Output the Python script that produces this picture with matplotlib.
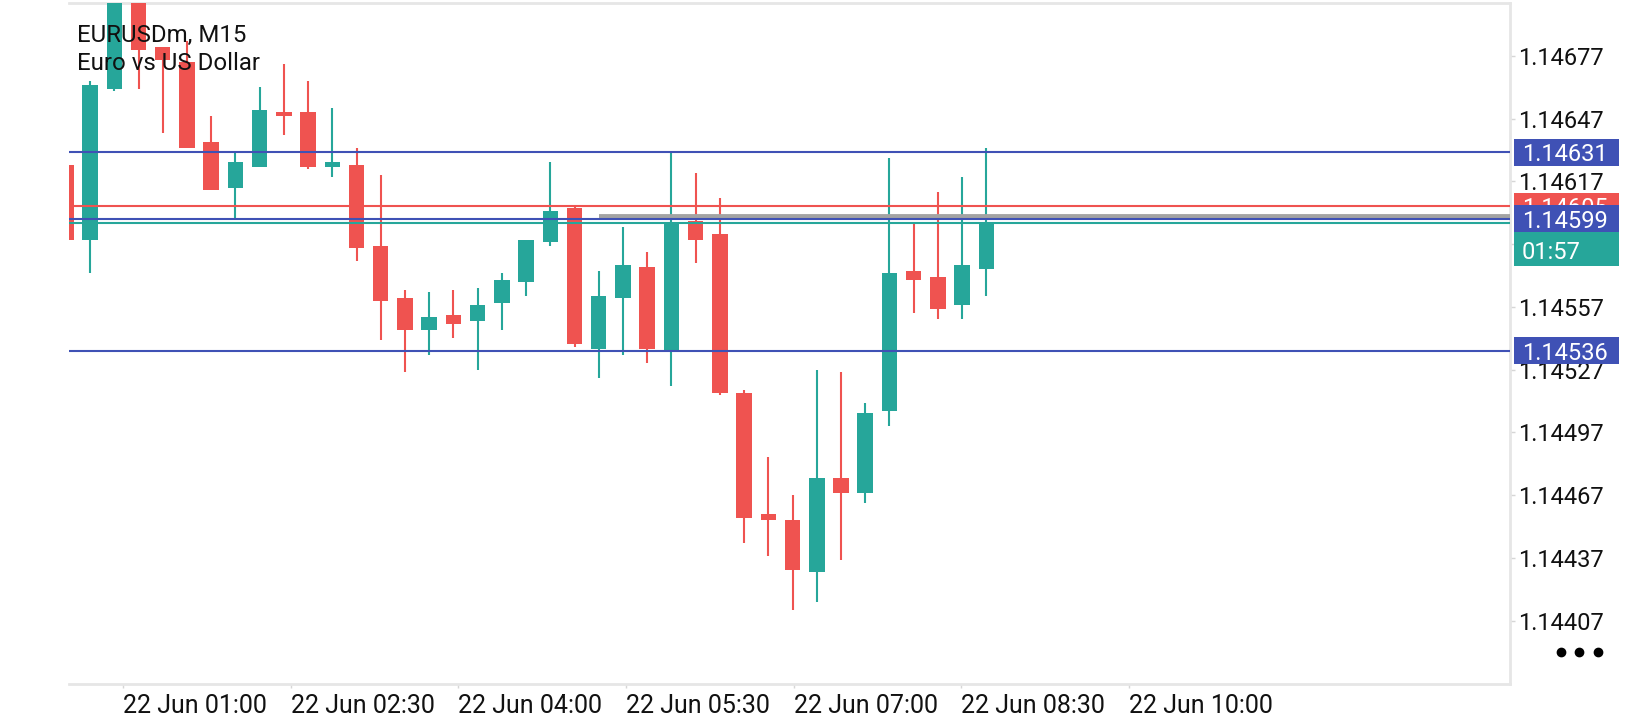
import numpy as np
import matplotlib
matplotlib.use('Agg')
import matplotlib.pyplot as plt
import matplotlib.transforms as mtransforms
from matplotlib.patches import Rectangle
from matplotlib.lines import Line2D

plt.rcParams['font.family'] = ['Roboto', 'DejaVu Sans']

# M15 candles, oldest first
opens = [1.14625, 1.14589, 1.14661, 1.14712, 1.14681, 1.14674, 1.14636, 1.14614, 1.14624, 1.14650,
         1.14650, 1.14624, 1.14625, 1.14586, 1.14561, 1.14546, 1.14553, 1.14550, 1.14559, 1.14569,
         1.14588, 1.14604, 1.14537, 1.14561, 1.14576, 1.14536, 1.14598, 1.14592, 1.14516, 1.14458,
         1.14455, 1.14430, 1.14475, 1.14468, 1.14507, 1.14574, 1.14571, 1.14558, 1.14575]
highs = [1.14627, 1.14665, 1.14718, 1.14716, 1.14681, 1.14684, 1.14648, 1.14631, 1.14662, 1.14673,
         1.14665, 1.14652, 1.14633, 1.14620, 1.14565, 1.14564, 1.14565, 1.14566, 1.14573, 1.14589,
         1.14626, 1.14605, 1.14574, 1.14595, 1.14583, 1.14631, 1.14621, 1.14609, 1.14517, 1.14485,
         1.14467, 1.14527, 1.14526, 1.14511, 1.14628, 1.14597, 1.14612, 1.14619, 1.14633]
lows = [1.14587, 1.14573, 1.14660, 1.14661, 1.14640, 1.14633, 1.14613, 1.14599, 1.14624, 1.14639,
        1.14623, 1.14619, 1.14579, 1.14541, 1.14526, 1.14534, 1.14542, 1.14527, 1.14546, 1.14562,
        1.14586, 1.14538, 1.14523, 1.14534, 1.14530, 1.14519, 1.14578, 1.14515, 1.14444, 1.14438,
        1.14412, 1.14416, 1.14436, 1.14463, 1.14500, 1.14554, 1.14551, 1.14551, 1.14562]
closes = [1.14589, 1.14663, 1.14712, 1.14680, 1.14675, 1.14633, 1.14613, 1.14626, 1.14651, 1.14648,
          1.14624, 1.14626, 1.14585, 1.14560, 1.14546, 1.14552, 1.14549, 1.14558, 1.14570, 1.14589,
          1.14603, 1.14539, 1.14562, 1.14577, 1.14537, 1.14597, 1.14589, 1.14516, 1.14456, 1.14455,
          1.14431, 1.14475, 1.14468, 1.14506, 1.14573, 1.14570, 1.14556, 1.14577, 1.14597]

x_labels = ['22 Jun 01:00', '22 Jun 02:30', '22 Jun 04:00', '22 Jun 05:30',
            '22 Jun 07:00', '22 Jun 08:30', '22 Jun 10:00']
y_ticks = [1.14407, 1.14437, 1.14467, 1.14497, 1.14527, 1.14557, 1.14587, 1.14617, 1.14647, 1.14677]

levels = [1.14631, 1.14599, 1.14536]
ask_price = 1.14605
bid_price = 1.14597
zone_price = 1.14600
zone_start = 22
countdown = '01:57'

up_color = '#26a69a'
down_color = '#ef5350'
level_color = '#3f51b5'
border_color = '#e6e6e6'

W, H = 1640, 720
fig = plt.figure(figsize=(W / 100, H / 100), dpi=100)
ax_l, ax_r, ax_t, ax_b = 69, 1510, 3, 684
ax = fig.add_axes([ax_l / W, 1 - ax_b / H, (ax_r - ax_l) / W, (ax_b - ax_t) / H])

ymin, ymax = 1.1437665, 1.1470224
xmin, xmax = 0.13, 59.62
dy = (ymax - ymin) / (ax_b - ax_t)  # price per pixel

o = np.array(opens)
c = np.array(closes)
x = np.arange(len(o))
colors = np.where(c >= o, up_color, down_color)

ax.vlines(x, lows, highs, colors=colors, lw=1.5, zorder=2)
ax.bar(x, np.maximum(np.abs(c - o), 1.2 * dy), width=0.64, bottom=np.minimum(o, c),
       color=colors, zorder=3)

ax.hlines(zone_price, zone_start, xmax, color='#a3a3a3', lw=4.2, zorder=4)
ax.axhline(ask_price, color=down_color, lw=1.5, zorder=5)
ax.axhline(bid_price, color=up_color, lw=1.5, zorder=5)
for lv in levels:
    ax.axhline(lv, color=level_color, lw=1.5, zorder=6)

ax.set_xlim(xmin, xmax)
ax.set_ylim(ymin, ymax)

# axis styling
for side in ['top', 'right', 'bottom']:
    ax.spines[side].set_color(border_color)
    ax.spines[side].set_linewidth(2)
ax.spines['left'].set_visible(False)

ax.yaxis.tick_right()
ax.set_yticks(y_ticks)
ax.set_yticklabels([f'{v:.5f}' for v in y_ticks])
ax.tick_params(axis='y', length=3.5, width=1, color='#d6d6d6', labelsize=17,
               labelcolor='#111111', pad=2.5)

tick_start, tick_step = 2.37, 6.92
ax.set_xticks([tick_start + tick_step * i for i in range(len(x_labels))])
ax.set_xticklabels(x_labels, ha='left')
ax.tick_params(axis='x', length=3, width=1, color='#d6d6d6', labelsize=18,
               labelcolor='#111111', pad=4.5)

# price label boxes on the right
bt = mtransforms.blended_transform_factory(fig.transFigure, ax.transData)
box_x, box_w = 1514 / W, 105 / W
txt_x = 1522 / W
half = 13.5 * dy


def price_box(price, color, z, text_color='white'):
    ax.add_patch(Rectangle((box_x, price - half), box_w, 2 * half, transform=bt,
                           facecolor=color, edgecolor='none', clip_on=False, zorder=z))
    ax.text(txt_x, price, f'{price:.5f}', transform=bt, color=text_color, fontsize=17,
            ha='left', va='center_baseline', clip_on=False, zorder=z + 0.5)


price_box(bid_price, up_color, 10)
price_box(ask_price, down_color, 11)
for lv in levels:
    price_box(lv, level_color, 12)

cd_top = levels[1] - half - 1.5 * dy
cd_h = 31.7 * dy
ax.add_patch(Rectangle((box_x, cd_top - cd_h), box_w, cd_h, transform=bt,
                       facecolor=up_color, edgecolor='none', clip_on=False, zorder=13))
ax.text(txt_x, cd_top - cd_h / 2, countdown, transform=bt, color='white', fontsize=17,
        ha='left', va='center_baseline', clip_on=False, zorder=13.5)

# symbol caption
fig.text(76.7 / W, 1 - 42.3 / H, 'EURUSDm, M15', fontsize=17.3, color='#111111', va='baseline')
fig.text(76.7 / W, 1 - 70 / H, 'Euro vs US Dollar', fontsize=17.3, color='#111111', va='baseline')

# menu dots
dots_x = [(1561 + 18.5 * i) / W for i in range(3)]
fig.add_artist(Line2D(dots_x, [1 - 652 / H] * 3, ls='none', marker='o', ms=6,
                      color='black', transform=fig.transFigure))

fig.savefig('out.png', dpi=100, facecolor='white')
